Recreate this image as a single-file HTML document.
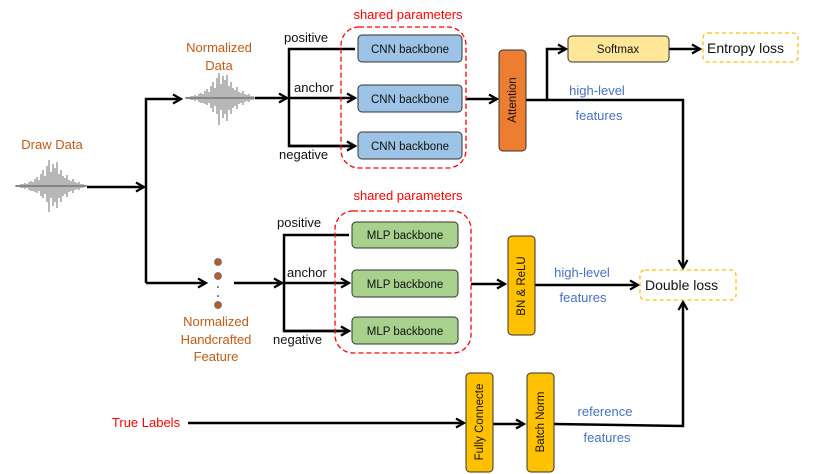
<!DOCTYPE html>
<html><head><meta charset="utf-8"><style>
body{margin:0;background:#fff}
svg{display:block}
text{font-family:"Liberation Sans",sans-serif}
</style></head><body>
<svg width="830" height="474" viewBox="0 0 830 474" xmlns="http://www.w3.org/2000/svg">
<defs>
<marker id="a" markerWidth="12" markerHeight="12" refX="9" refY="6" orient="auto" markerUnits="userSpaceOnUse">
<path d="M1,1.5 L9,6 L1,10.5" fill="none" stroke="#000" stroke-width="2.2"/>
</marker>
</defs>
<g stroke="#333" stroke-width="0.7" fill="none">
<path d="M15,186h72 M17,185v2 M19,185v2 M21,184v4 M23,184v4 M25,183v6 M27,184v4 M29,182v8 M31,181v10 M33,182v9 M35,179v13 M37,177v16 M39,180v11 M41,174v22 M43,170v28 M45,176v18 M47,166v36 M49,160v52 M51,172v26 M53,164v42 M55,168v34 M57,162v46 M59,174v24 M61,170v32 M63,176v20 M65,178v16 M67,175v22 M69,180v12 M71,181v10 M73,179v14 M75,182v8 M77,183v6 M79,182v8 M81,184v4 M83,184v4 M85,185v2"/>
<path d="M185,98h70 M187,97v2 M189,97v2 M191,96v4 M193,96v4 M195,95v6 M197,96v4 M199,94v8 M201,93v10 M203,94v9 M205,91v13 M207,89v16 M209,92v11 M211,86v22 M213,82v30 M215,88v18 M217,78v36 M219,73v52 M221,84v26 M223,76v42 M225,80v34 M227,75v46 M229,86v24 M231,82v32 M233,88v20 M235,90v16 M237,87v22 M239,92v12 M241,93v10 M243,91v14 M245,94v8 M247,95v6 M249,94v8 M251,96v4 M253,96v4"/>
</g>
<g stroke="#000" stroke-width="2.5" fill="none">
<path d="M87,187H144" marker-end="url(#a)"/>
<path d="M146,283V99H181" marker-end="url(#a)"/>
<path d="M146,283H206" marker-end="url(#a)"/>
<path d="M255,98H287" marker-end="url(#a)"/>
<path d="M355,49H289V146H355" marker-end="url(#a)"/>
<path d="M289,146H355" marker-end="url(#a)"/>
<path d="M289,98H355" marker-end="url(#a)"/>
<path d="M466,99H497" marker-end="url(#a)"/>
<path d="M526,100H683V268" marker-end="url(#a)"/>
<path d="M547,100V49H566" marker-end="url(#a)"/>
<path d="M669,49H700" marker-end="url(#a)"/>
<path d="M234,283H282" marker-end="url(#a)"/>
<path d="M284,283H349" marker-end="url(#a)"/>
<path d="M349,235H284V331H349" marker-end="url(#a)"/>
<path d="M284,331H349" marker-end="url(#a)"/>
<path d="M471,284H505" marker-end="url(#a)"/>
<path d="M535,285H638" marker-end="url(#a)"/>
<path d="M188,423H464" marker-end="url(#a)"/>
<path d="M493,424H524" marker-end="url(#a)"/>
<path d="M554,424L683,426V302" marker-end="url(#a)"/>
</g>
<g fill="#c55a11" stroke="#4a6fa5" stroke-width="0.8">
<circle cx="218" cy="262" r="3.5"/><circle cx="218" cy="276" r="3.5"/><circle cx="218" cy="305" r="3.5"/>
</g>
<circle cx="218" cy="287" r="0.8" fill="#000"/><circle cx="218" cy="296" r="0.8" fill="#000"/>
<rect x="341" y="27" width="125" height="141" rx="18" fill="none" stroke="#f00" stroke-width="1.3" stroke-dasharray="5,3"/>
<rect x="335" y="211" width="136" height="142" rx="18" fill="none" stroke="#f00" stroke-width="1.3" stroke-dasharray="5,3"/>
<g fill="#9dc3e6" stroke="#333" stroke-width="1">
<rect x="358" y="35" width="104" height="27" rx="4"/>
<rect x="358" y="85" width="104" height="27" rx="4"/>
<rect x="358" y="132" width="104" height="27" rx="4"/>
</g>
<g fill="#a9d18e" stroke="#333" stroke-width="1">
<rect x="352" y="222" width="106" height="26" rx="4"/>
<rect x="352" y="270" width="106" height="27" rx="4"/>
<rect x="352" y="317" width="106" height="27" rx="4"/>
</g>
<rect x="499" y="50" width="27" height="101" rx="4" fill="#ed7d31" stroke="#333"/>
<rect x="568" y="36" width="101" height="26" rx="4" fill="#ffe699" stroke="#333"/>
<rect x="508" y="236" width="27" height="99" rx="4" fill="#ffc000" stroke="#333"/>
<rect x="466" y="373" width="27" height="99" rx="4" fill="#ffc000" stroke="#333"/>
<rect x="527" y="373" width="27" height="99" rx="4" fill="#ffc000" stroke="#333"/>
<rect x="703" y="33" width="95" height="29" rx="5" fill="none" stroke="#ffc000" stroke-width="1.3" stroke-dasharray="4,3"/>
<rect x="640" y="270" width="96" height="30" rx="5" fill="none" stroke="#ffc000" stroke-width="1.3" stroke-dasharray="4,3"/>
<g font-size="11.5" fill="#111" text-anchor="middle">
<text x="410" y="53">CNN backbone</text>
<text x="410" y="103">CNN backbone</text>
<text x="410" y="150">CNN backbone</text>
<text x="405" y="239">MLP backbone</text>
<text x="405" y="288">MLP backbone</text>
<text x="405" y="335">MLP backbone</text>
<text x="618" y="53">Softmax</text>
<text transform="translate(516,100) rotate(-90)">Attention</text>
<text transform="translate(525,286) rotate(-90)">BN &amp; ReLU</text>
<text transform="translate(483,422) rotate(-90)">Fully Connecte</text>
<text transform="translate(544,422) rotate(-90)">Batch Norm</text>
</g>
<g font-size="14" fill="#111">
<text x="707" y="53">Entropy loss</text>
<text x="645" y="290">Double loss</text>
</g>
<g font-size="13" fill="#111">
<text x="284" y="42">positive</text>
<text x="294" y="92">anchor</text>
<text x="279" y="159">negative</text>
<text x="277" y="227">positive</text>
<text x="287" y="277">anchor</text>
<text x="273" y="344">negative</text>
</g>
<g font-size="13" fill="#f00" text-anchor="middle">
<text x="408" y="19">shared parameters</text>
<text x="408" y="200">shared parameters</text>
<text x="146" y="427">True Labels</text>
</g>
<g font-size="13" fill="#c55a11" text-anchor="middle">
<text x="52" y="149">Draw Data</text>
<text x="219" y="52">Normalized</text>
<text x="219" y="70">Data</text>
<text x="216" y="326">Normalized</text>
<text x="216" y="344">Handcrafted</text>
<text x="216" y="361">Feature</text>
</g>
<g font-size="13" fill="#4472c4" text-anchor="middle">
<text x="597" y="95">high-level</text>
<text x="599" y="120">features</text>
<text x="582" y="277">high-level</text>
<text x="583" y="302">features</text>
<text x="605" y="416">reference</text>
<text x="607" y="442">features</text>
</g>
</svg>
</body></html>
